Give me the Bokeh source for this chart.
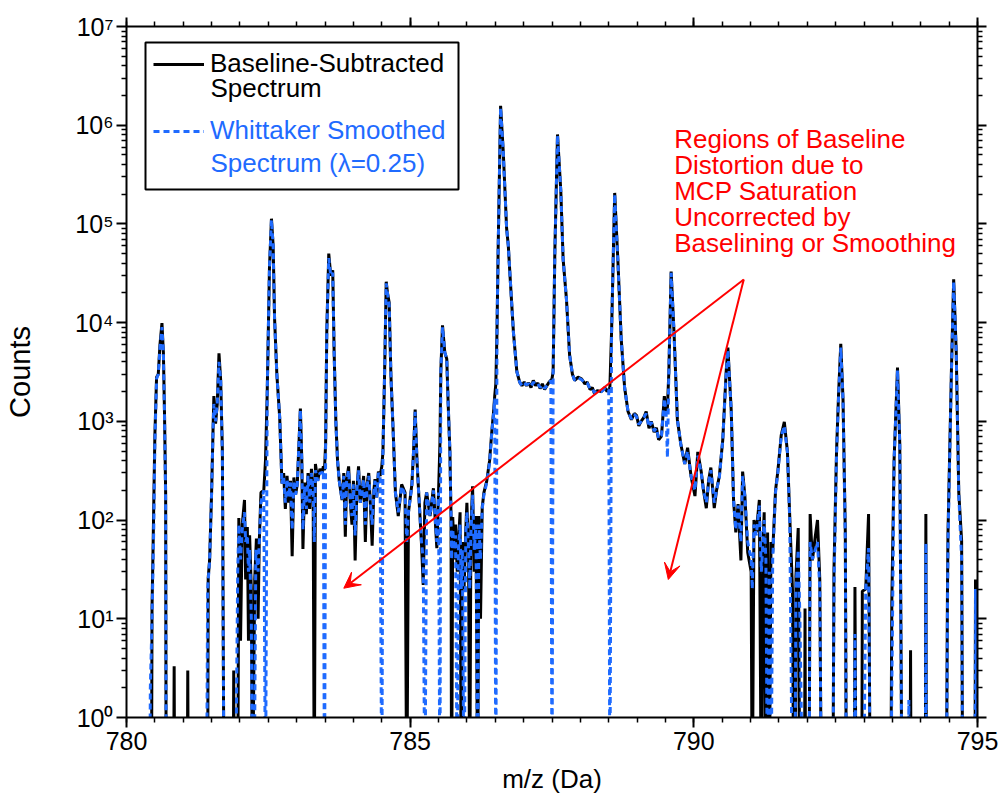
from bokeh.plotting import figure
from bokeh.models import (Range1d, LinearAxis, LogAxis, FixedTicker, SingleIntervalTicker,
                          Legend, LegendItem, BoxAnnotation, Label, Arrow, VeeHead,
                          CustomJSTickFormatter)
from bokeh.embed import file_html
from bokeh.resources import INLINE

FONT = "Liberation Sans"
BLUE = "#1F6BFF"

# ---------------- data ----------------
# Baseline-subtracted spectrum: m/z (Da) and counts (values < 1 fall below the axis)
raw_mz = [
    780.00, 780.44, 780.45, 780.47, 780.50, 780.53, 780.56, 780.59, 780.625, 780.65, 780.67, 780.69, 780.70,
    780.83, 780.84, 780.85, 781.07, 781.08, 781.09,
    781.43, 781.44, 781.465, 781.50, 781.525, 781.54, 781.57, 781.60, 781.63, 781.66, 781.69, 781.72,
    781.88, 781.89, 781.90, 781.96, 781.98, 782.01, 782.04, 782.08, 782.10, 782.13, 782.15, 782.17, 782.20, 782.22, 782.26, 782.29, 782.32, 782.34, 782.37, 782.42, 782.45, 782.48,
    782.52, 782.555, 782.585, 782.61, 782.65, 782.70, 782.74,
    782.77, 782.80, 782.83, 782.86, 782.89, 782.92, 782.95, 782.98, 783.01, 783.04, 783.065, 783.09, 783.11, 783.14, 783.17, 783.20, 783.23, 783.26, 783.29, 783.31, 783.33, 783.37, 783.41, 783.45, 783.47, 783.49, 783.51,
    783.53, 783.565, 783.60, 783.635, 783.66, 783.69, 783.72, 783.75,
    783.80, 783.83, 783.857, 783.88, 783.915, 783.945, 783.974, 784.00, 784.03, 784.06, 784.09, 784.12, 784.15, 784.18, 784.21, 784.24, 784.27, 784.30, 784.33, 784.36, 784.38, 784.41, 784.44, 784.47, 784.50, 784.52, 784.55,
    784.578, 784.60, 784.63, 784.66, 784.70, 784.74, 784.79, 784.85, 784.91, 784.94, 784.97, 785.03, 785.06, 785.088, 785.12, 785.15, 785.20, 785.23, 785.26, 785.29, 785.35, 785.41, 785.47, 785.50, 785.525, 785.54,
    785.57, 785.61, 785.645, 785.67, 785.70, 785.72, 785.73, 785.75, 785.78, 785.80, 785.83, 785.85, 785.88, 785.90, 785.92, 785.95, 785.98, 786.00, 786.03, 786.05, 786.07, 786.10, 786.13, 786.16, 786.19, 786.21, 786.24, 786.27, 786.30, 786.35, 786.40, 786.44, 786.47, 786.49, 786.51, 786.53,
    786.55, 786.594, 786.64, 786.70, 786.73, 786.76, 786.82, 786.88, 786.93, 786.97, 787.01, 787.05, 787.09, 787.13, 787.17, 787.21, 787.25, 787.29, 787.33, 787.37, 787.41, 787.45, 787.48, 787.50, 787.52,
    787.55, 787.597, 787.655, 787.696, 787.755, 787.81, 787.86, 787.90, 787.96, 788.02, 788.08, 788.12, 788.17, 788.21, 788.25, 788.30, 788.37, 788.43, 788.47, 788.50, 788.52, 788.55,
    788.605, 788.66, 788.72, 788.78, 788.84, 788.90, 788.95, 788.99, 789.03, 789.07, 789.12, 789.16, 789.21, 789.25, 789.30, 789.34, 789.38, 789.43, 789.48, 789.51, 789.535, 789.56,
    789.60, 789.65, 789.71, 789.77, 789.84, 789.89, 789.95, 790.02, 790.07, 790.13, 790.17, 790.22, 790.26, 790.30, 790.36, 790.40, 790.45, 790.51, 790.57, 790.60, 790.66, 790.70,
    790.74, 790.78, 790.83, 790.86, 790.90, 790.95, 791.01, 791.03, 791.06, 791.10, 791.155, 791.19, 791.22, 791.24, 791.27, 791.30, 791.33, 791.36, 791.39, 791.44, 791.48, 791.54, 791.595, 791.65, 791.69, 791.74, 791.76,
    791.79, 791.80, 791.84, 791.87, 791.95, 791.96, 791.97, 792.03, 792.05, 792.09, 792.14, 792.18, 792.22, 792.25,
    792.45, 792.47, 792.515, 792.55, 792.59, 792.63, 792.67, 792.69,
    792.83, 792.84, 792.86, 792.96, 792.97, 793.03, 793.08, 793.11,
    793.47, 793.49, 793.53, 793.59, 793.63, 793.67, 793.81, 793.82, 793.83, 794.08, 794.09, 794.10,
    794.45, 794.47, 794.48, 794.54, 794.58, 794.625, 794.67, 794.72, 794.74, 794.955, 794.965, 795.00,
]
raw_counts = [
    0.1, 0.1, 13, 60, 720, 2800, 3000, 6000, 9900, 5000, 1200, 190, 0.1,
    0.1, 3.3, 0.1, 0.1, 3.0, 0.1,
    0.1, 26, 39, 190, 800, 1800, 950, 1500, 4900, 2600, 500, 0.1,
    0.1, 3, 0.1, 0.1, 105, 6, 90, 160, 25, 85, 6, 70, 20, 0.1, 25, 65, 10, 60, 190, 200, 400, 1900,
    36000, 113000, 60000, 11000, 3000, 1100, 235,
    300, 130, 280, 150, 250, 43, 270, 180, 230, 600, 1350, 400, 51, 240, 115, 300, 130, 330, 200, 0.1, 370, 250, 330, 300, 350, 320, 600,
    8000, 50000, 30000, 34000, 5000, 1000, 400, 250,
    160, 300, 68, 250, 350, 150, 90, 250, 39, 200, 350, 150, 190, 280, 60, 230, 300, 140, 55, 200, 260, 170, 310, 280, 350, 490, 3200,
    26000, 20000, 16000, 3000, 800, 190, 110, 230, 190, 0.1, 120, 230, 500, 1320, 400, 190, 57, 22, 150, 190, 110, 210, 52, 190, 600, 3200,
    9400, 5000, 4300, 1500, 500, 110, 0.1, 107, 40, 90, 30, 60, 120, 0.1, 60, 20, 80, 150, 40, 0.1, 80, 220, 30, 110, 0.1, 110, 10, 135, 190, 250, 400, 800, 1250, 1800, 2400, 8000,
    52000, 1570000, 550000, 90000, 60000, 30000, 8000, 3200, 2500, 2300, 2500, 2300, 2450, 2200, 2600, 2300, 2450, 2150, 2400, 2100, 2300, 2500, 2600, 2700, 3200,
    52000, 806000, 216000, 44000, 17200, 4700, 3000, 2600, 2800, 2700, 2400, 2500, 2100, 2200, 1900, 2050, 2000, 2200, 2000, 2100, 2200, 8100,
    206000, 44000, 6800, 2200, 1260, 1040, 1200, 1150, 900, 1000, 1100, 1260, 850, 1000, 780, 860, 650, 710, 1800, 1260, 1400, 3200,
    33000, 8100, 1040, 590, 370, 540, 280, 175, 490, 310, 200, 132, 250, 340, 132, 200, 280, 650, 3200, 5600, 1260, 160,
    75, 145, 39, 310, 175, 47, 30, 0.1, 100, 75, 160, 0.1, 60, 120, 0.1, 75, 0.1, 60, 47, 200, 310, 720, 990, 490, 110, 19, 0.1,
    0.1, 27, 83, 0.1, 0.1, 12.7, 0.1, 0.1, 115, 39, 68, 100, 25, 0.1,
    0.1, 31, 490, 1800, 6100, 1650, 75, 0.1,
    0.1, 21, 0.1, 0.1, 19, 20, 115, 0.1,
    0.1, 15, 410, 3500, 590, 0.1, 0.1, 4.8, 0.1, 0.1, 115, 0.1,
    0.1, 17, 75, 3200, 27500, 5100, 190, 62, 0.1, 0.1, 25, 0.1,
]

# Whittaker smoothed spectrum (lambda = 0.25)
smooth_mz = [
    780.00, 780.41, 780.42, 780.45, 780.48, 780.50, 780.53, 780.56, 780.59, 780.625, 780.65, 780.67, 780.69, 780.70,
    781.41, 781.43, 781.465, 781.50, 781.525, 781.54, 781.57, 781.60, 781.63, 781.66, 781.69, 781.72,
    781.92, 781.96, 781.98, 782.01, 782.04, 782.08, 782.10, 782.13, 782.15, 782.17, 782.20, 782.22, 782.25, 782.28, 782.32, 782.34, 782.37, 782.42, 782.45, 782.48,
    782.52, 782.555, 782.585, 782.61, 782.65, 782.70, 782.74,
    782.77, 782.80, 782.83, 782.86, 782.89, 782.92, 782.95, 782.98, 783.01, 783.04, 783.065, 783.09, 783.11, 783.14, 783.17, 783.20, 783.23, 783.26, 783.29, 783.31, 783.33, 783.37, 783.41, 783.45, 783.47, 783.49, 783.51,
    783.53, 783.565, 783.60, 783.635, 783.66, 783.69, 783.72, 783.75,
    783.80, 783.83, 783.857, 783.88, 783.915, 783.945, 783.974, 784.00, 784.03, 784.06, 784.09, 784.12, 784.15, 784.18, 784.21, 784.24, 784.27, 784.30, 784.33, 784.36, 784.38, 784.41, 784.44, 784.47, 784.50, 784.52, 784.55,
    784.578, 784.60, 784.63, 784.66, 784.70, 784.74, 784.79, 784.85, 784.91, 784.94, 784.97, 785.03, 785.06, 785.088, 785.12, 785.15, 785.20, 785.23, 785.26, 785.29, 785.35, 785.41, 785.47, 785.50, 785.525, 785.54,
    785.57, 785.61, 785.645, 785.67, 785.70, 785.72, 785.73, 785.75, 785.78, 785.80, 785.83, 785.85, 785.88, 785.90, 785.92, 785.95, 785.98, 786.00, 786.03, 786.05, 786.07, 786.10, 786.13, 786.16, 786.19, 786.21, 786.24, 786.27, 786.30, 786.35, 786.40, 786.44, 786.47, 786.49, 786.51, 786.53,
    786.55, 786.594, 786.64, 786.70, 786.73, 786.76, 786.82, 786.88, 786.93, 786.97, 787.01, 787.05, 787.09, 787.13, 787.17, 787.21, 787.25, 787.29, 787.33, 787.37, 787.41, 787.45, 787.48, 787.50, 787.52,
    787.55, 787.597, 787.655, 787.696, 787.755, 787.81, 787.86, 787.90, 787.96, 788.02, 788.08, 788.12, 788.17, 788.21, 788.25, 788.30, 788.37, 788.43, 788.47, 788.50, 788.52, 788.55,
    788.605, 788.66, 788.72, 788.78, 788.84, 788.90, 788.95, 788.99, 789.03, 789.07, 789.12, 789.16, 789.21, 789.25, 789.30, 789.34, 789.38, 789.43, 789.48, 789.51, 789.535, 789.56,
    789.60, 789.65, 789.71, 789.77, 789.84, 789.89, 789.95, 790.02, 790.07, 790.13, 790.17, 790.22, 790.26, 790.30, 790.36, 790.40, 790.45, 790.51, 790.57, 790.60, 790.66, 790.70,
    790.74, 790.78, 790.83, 790.86, 790.90, 790.95, 791.01, 791.03, 791.06, 791.10, 791.155, 791.19, 791.22, 791.24, 791.27, 791.30, 791.33, 791.36, 791.39, 791.44, 791.48, 791.54, 791.595, 791.65, 791.69, 791.74, 791.76,
    791.78, 791.80, 791.84, 791.87, 791.92, 792.03, 792.05, 792.09, 792.14, 792.18, 792.22, 792.25,
    792.45, 792.47, 792.515, 792.55, 792.59, 792.63, 792.67, 792.69,
    792.83, 792.84, 792.86, 792.99, 793.03, 793.08, 793.11,
    793.47, 793.49, 793.53, 793.59, 793.63, 793.67, 793.78, 793.79, 793.80, 794.08, 794.09, 794.10,
    794.45, 794.47, 794.48, 794.54, 794.58, 794.625, 794.67, 794.72, 794.74, 794.955, 794.965, 795.00,
]
smooth_counts = [
    0.1, 0.1, 2, 10, 80, 600, 2700, 3000, 5500, 9000, 5000, 1200, 150, 0.1,
    0.1, 20, 39, 190, 800, 1500, 1000, 1500, 4000, 2600, 450, 0.1,
    0.1, 30, 90, 40, 80, 120, 60, 70, 30, 50, 10, 0.1, 0.1, 50, 30, 60, 150, 200, 0.1, 1900,
    36000, 110000, 60000, 11000, 3000, 1100, 235,
    280, 150, 260, 170, 240, 80, 250, 180, 230, 600, 1300, 400, 80, 220, 130, 280, 150, 300, 200, 60, 320, 250, 300, 300, 320, 0.1, 600,
    8000, 45000, 30000, 32000, 5000, 1000, 400, 250,
    160, 280, 90, 250, 320, 150, 110, 230, 70, 200, 320, 150, 190, 260, 90, 220, 280, 150, 90, 200, 250, 170, 300, 280, 0.1, 490, 3200,
    25000, 20000, 15000, 3000, 800, 190, 120, 220, 180, 60, 120, 220, 500, 1250, 400, 190, 60, 40, 0.1, 190, 110, 200, 60, 190, 0.1, 3200,
    9000, 5000, 4300, 1500, 500, 110, 40, 80, 50, 70, 0.1, 50, 90, 20, 50, 0.1, 70, 120, 50, 20, 70, 180, 50, 90, 0.1, 90, 40, 130, 180, 240, 380, 780, 1200, 1700, 0.1, 8000,
    50000, 1500000, 550000, 90000, 60000, 30000, 8000, 3200, 2500, 2300, 2450, 2350, 2400, 2250, 2500, 2350, 2400, 2200, 2350, 2150, 2300, 2450, 2600, 0.1, 3200,
    50000, 790000, 216000, 44000, 17200, 4700, 3000, 2600, 2750, 2650, 2450, 2450, 2150, 2150, 1950, 2000, 2000, 2150, 2050, 2100, 0.1, 8000,
    200000, 44000, 6800, 2200, 1260, 1060, 1180, 1120, 930, 1000, 1100, 1200, 880, 980, 800, 850, 670, 720, 1700, 1260, 430, 3200,
    32000, 8100, 1040, 590, 370, 500, 280, 200, 450, 300, 200, 150, 240, 320, 150, 200, 270, 650, 3000, 5300, 1260, 160,
    80, 140, 60, 280, 170, 60, 40, 20, 90, 70, 140, 30, 60, 100, 40, 0.1, 30, 0.1, 40, 190, 300, 700, 900, 480, 100, 0.1, 0.1,
    0.1, 20, 50, 10, 0.1, 0.1, 60, 40, 50, 60, 20, 0.1,
    0.1, 20, 450, 1700, 5600, 1600, 60, 0.1,
    0.1, 7, 0.1, 0.1, 20, 52, 0.1,
    0.1, 2, 400, 3300, 560, 0.1, 0.1, 1.5, 0.1, 0.1, 58, 0.1,
    0.1, 10, 60, 3000, 26000, 5000, 180, 40, 0.1, 0.1, 20, 0.1,
]

y_major_ticks = [1, 10, 100, 1000, 10000, 100000, 1000000, 10000000]
y_tick_labels = ["10\u2070", "10\u00b9", "10\u00b2", "10\u00b3", "10\u2074", "10\u2075", "10\u2076", "10\u2077"]

assert len(raw_mz) == len(raw_counts), (len(raw_mz), len(raw_counts))
assert len(smooth_mz) == len(smooth_counts), (len(smooth_mz), len(smooth_counts))

# ---------------- figure ----------------
p = figure(width=1000, height=796, y_axis_type="log",
           x_range=Range1d(780, 795), y_range=Range1d(1, 1e7),
           output_backend="svg", toolbar_location=None,
           min_border_left=124, min_border_right=23, min_border_top=26, min_border_bottom=79)
p.grid.visible = False
p.outline_line_color = None
p.background_fill_color = "white"
p.border_fill_color = "white"

y_minor = [k * 10 ** d for d in range(7) for k in range(2, 10)]


def style_axis(ax):
    ax.axis_line_width = 2
    ax.axis_line_color = "black"
    ax.major_tick_out = 10
    ax.major_tick_in = 0
    ax.minor_tick_out = 5
    ax.minor_tick_in = 0
    ax.major_tick_line_width = 2
    ax.minor_tick_line_width = 1.5
    ax.major_label_text_font = FONT
    ax.major_label_text_font_size = "25px"
    ax.major_label_text_color = "black"
    ax.axis_label_text_font = FONT
    ax.axis_label_text_font_size = "26px"
    ax.axis_label_text_font_style = "normal"
    ax.axis_label_text_color = "black"


xa = p.xaxis[0]
xa.ticker = SingleIntervalTicker(interval=5, num_minor_ticks=10)
style_axis(xa)
xa.axis_label = "m/z (Da)"
xa.major_label_standoff = 4
xa.axis_label_standoff = 11

ya = p.yaxis[0]
ya.ticker = FixedTicker(ticks=y_major_ticks, minor_ticks=y_minor)
style_axis(ya)
ya.major_label_overrides = {t: lab for t, lab in zip(y_major_ticks, y_tick_labels)}
ya.axis_label = "Counts"
ya.axis_label_text_font_size = "29px"
ya.major_label_standoff = 3
ya.axis_label_standoff = 36

blank = CustomJSTickFormatter(code="return ''")
top = LinearAxis(ticker=SingleIntervalTicker(interval=5, num_minor_ticks=10), formatter=blank)
style_axis(top)
top.major_tick_out = 9
p.add_layout(top, "above")
right = LogAxis(ticker=FixedTicker(ticks=y_major_ticks, minor_ticks=y_minor), formatter=blank)
style_axis(right)
right.major_tick_out = 9
p.add_layout(right, "right")

raw_r = p.line(raw_mz, raw_counts, line_color="black", line_width=3)
smooth_r = p.line(smooth_mz, smooth_counts, line_color=BLUE, line_width=3, line_dash="6 4")

# ---------------- legend ----------------
box = BoxAnnotation(left=19, right=332, top=675, bottom=528,
                    left_units="screen", right_units="screen", top_units="screen", bottom_units="screen",
                    fill_alpha=0, line_color="black", line_alpha=1.0, line_width=2)
p.add_layout(box)


def make_legend(first, second, rend, color, loc, y2):
    lg = Legend(items=[LegendItem(label=first, renderers=[rend])], location=loc,
                padding=0, margin=0, spacing=0, glyph_width=51, glyph_height=26,
                label_standoff=6, border_line_alpha=0, background_fill_alpha=0,
                label_text_font=FONT, label_text_font_size="26px", label_text_color=color)
    p.add_layout(lg)
    p.add_layout(Label(x=loc[0] + 57, y=y2, x_units="screen", y_units="screen", text=second,
                       text_color=color, text_font=FONT, text_font_size="26px",
                       text_baseline="middle", text_align="left"))


make_legend("Baseline-Subtracted", "Spectrum", raw_r, "black", (27, 638), 630)
make_legend("Whittaker Smoothed", "Spectrum (\u03bb=0.25)", smooth_r, BLUE, (27, 571), 555)

# ---------------- annotation ----------------
note = Label(x=789.654, y=1.04e6, text="Regions of Baseline\nDistortion due to\nMCP Saturation\nUncorrected by\nBaselining or Smoothing",
             text_color="red", text_font=FONT, text_font_size="26px", text_baseline="top",
             text_align="left", text_line_height=0.87)
p.add_layout(note)
for xe, ye in [(783.83, 20.4), (789.55, 25.0)]:
    p.add_layout(Arrow(x_start=790.88, y_start=27350, x_end=xe, y_end=ye,
                       line_color="red", line_width=2,
                       end=VeeHead(size=16, fill_color="red", line_color="red", line_width=1)))

open("out.html", "w").write(file_html(p, INLINE))
